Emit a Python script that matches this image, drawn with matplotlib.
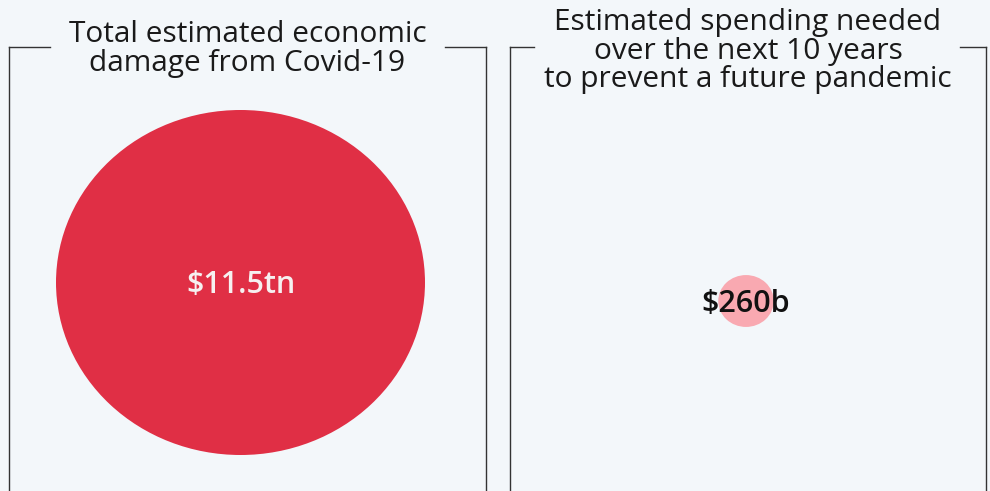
import matplotlib
matplotlib.use("Agg")
import matplotlib.pyplot as plt
from matplotlib.patches import Ellipse
import numpy as np

titles = ["Total estimated economic\ndamage from Covid-19",
          "Estimated spending needed\nover the next 10 years\nto prevent a future pandemic"]
values_bn = [11500, 260]
labels = ["$11.5tn", "$260b"]
colors = ["#e02f45", "#f9a9b1"]
label_colors = ["#f6f0f0", "#111111"]

BG = "#f3f7fa"
fig = plt.figure(figsize=(9.9, 4.91), dpi=100, facecolor=BG)
ax = fig.add_axes([0, 0, 1, 1])
ax.set_xlim(0, 990)
ax.set_ylim(491, 0)
ax.axis("off")
ax.set_facecolor(BG)

font = "Open Sans"
# panel geometry (pixels)
panels = [dict(x0=9, x1=486, gap=(50, 445), cx=240.5, cy=282.5, ty=49),
          dict(x0=510, x1=986, gap=(534, 960), cx=746, cy=301, ty=51)]
rx_max = 184.5
ry_scale = 172.5 / 184.5
vmax = max(values_bn)
line_kw = dict(color="#333333", lw=1.0)
for p, t, v, lab, c, lc in zip(panels, titles, values_bn, labels, colors, label_colors):
    ytop = 47
    ax.plot([p["x0"], p["x0"]], [491, ytop], **line_kw)
    ax.plot([p["x1"], p["x1"]], [491, ytop], **line_kw)
    ax.plot([p["x0"], p["gap"][0]], [ytop, ytop], **line_kw)
    ax.plot([p["gap"][1], p["x1"]], [ytop, ytop], **line_kw)
    rx = rx_max * np.sqrt(v / vmax)
    ax.add_patch(Ellipse((p["cx"], p["cy"]), 2 * rx, 2 * rx * ry_scale, color=c, lw=0))
    ax.text((p["x0"] + p["x1"]) / 2, p["ty"], t, ha="center", va="center",
            fontsize=21.5, family=font, color="#1a1a1a", linespacing=0.98)
    ax.text(p["cx"], p["cy"] + 2.5, lab, ha="center", va="center", fontsize=22,
            family=font, weight="semibold", color=lc)

fig.savefig("out.png", dpi=100, facecolor=BG)
